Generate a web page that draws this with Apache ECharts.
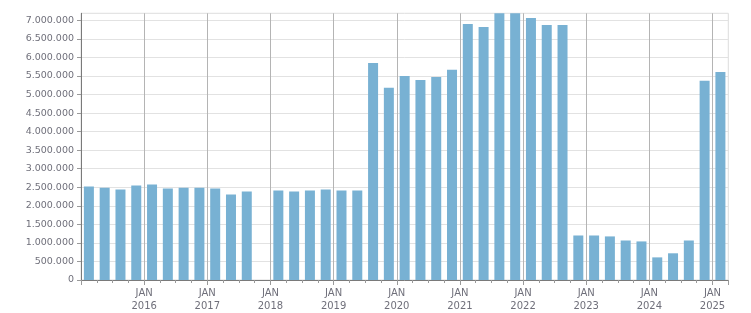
<!DOCTYPE html>
<html>
<head>
<meta charset="utf-8">
<script src="https://cdn.jsdelivr.net/npm/echarts@6/dist/echarts.min.js"></script>
<style>html,body{margin:0;padding:0;background:#fff;}#c{width:751px;height:313px;}</style>
</head>
<body>
<div id="c"></div>
<script>
// Quarterly values, 2015 Q1 .. 2025 Q1 (null = no data)
const quarters = [
  '2015 Q1','2015 Q2','2015 Q3','2015 Q4',
  '2016 Q1','2016 Q2','2016 Q3','2016 Q4',
  '2017 Q1','2017 Q2','2017 Q3','2017 Q4',
  '2018 Q1','2018 Q2','2018 Q3','2018 Q4',
  '2019 Q1','2019 Q2','2019 Q3','2019 Q4',
  '2020 Q1','2020 Q2','2020 Q3','2020 Q4',
  '2021 Q1','2021 Q2','2021 Q3','2021 Q4',
  '2022 Q1','2022 Q2','2022 Q3','2022 Q4',
  '2023 Q1','2023 Q2','2023 Q3','2023 Q4',
  '2024 Q1','2024 Q2','2024 Q3','2024 Q4',
  '2025 Q1'
];
const values = [
  2520000, 2490000, 2440000, 2545000,
  2575000, 2465000, 2490000, 2490000,
  2465000, 2305000, 2385000, null,
  2410000, 2385000, 2410000, 2440000,
  2410000, 2410000, 5850000, 5180000,
  5500000, 5395000, 5475000, 5665000,
  6900000, 6820000, 7190000, 7190000,
  7060000, 6875000, 6875000, 1200000,
  1200000, 1175000, 1065000, 1040000,
  610000, 720000, 1065000, 5370000,
  5610000
];
const firstYear = 2015;
const yMax = 7190000;
const yStep = 500000;

const data = values.map((v, i) => [i + 0.5, v]);

function fmt(n) {
  return String(n).replace(/\B(?=(\d{3})+(?!\d))/g, '.');
}

const txt = '#6f6f7a';
const chart = echarts.init(document.getElementById('c'), null, {renderer: 'canvas'});
chart.setOption({
  animation: false,
  grid: {left: 81, right: 22.7, top: 13.3, bottom: 32.3, show: true, borderColor: '#dddddd', borderWidth: 1, containLabel: false},
  xAxis: {
    type: 'value', min: 0, max: quarters.length, interval: 4,
    axisLine: {show: true, lineStyle: {color: '#7a7a7a', width: 1}},
    axisTick: {show: true, length: 5, lineStyle: {color: '#9a9a9a'}},
    minorTick: {show: true, splitNumber: 4, length: 3, lineStyle: {color: '#9a9a9a'}},
    splitLine: {show: true, showMinLine: false, showMaxLine: false, lineStyle: {color: '#b4b4b4', width: 1}},
    axisLabel: {
      margin: 7, color: txt, fontFamily: 'DejaVu Sans', fontSize: 10, lineHeight: 13,
      showMinLabel: false, showMaxLabel: false,
      formatter: function (v) {
        if (v % 4 !== 0 || v === 0) return '';
        return 'JAN\n' + (firstYear + v / 4);
      }
    }
  },
  yAxis: {
    type: 'value', min: 0, max: yMax, interval: yStep,
    axisLine: {show: true, lineStyle: {color: '#7a7a7a', width: 1}},
    axisTick: {show: true, length: 4, lineStyle: {color: '#9a9a9a'}},
    splitLine: {show: true, showMaxLine: false, lineStyle: {color: '#e2e2e2', width: 1}},
    axisLabel: {
      margin: 7, color: txt, fontFamily: 'DejaVu Sans', fontSize: 9.5,
      showMaxLabel: false,
      formatter: function (v) { return v % yStep === 0 ? fmt(v) : ''; }
    }
  },
  series: [{
    type: 'bar', data: data, barWidth: 10,
    itemStyle: {color: '#78b1d3'}
  }]
});
</script>
</body>
</html>
